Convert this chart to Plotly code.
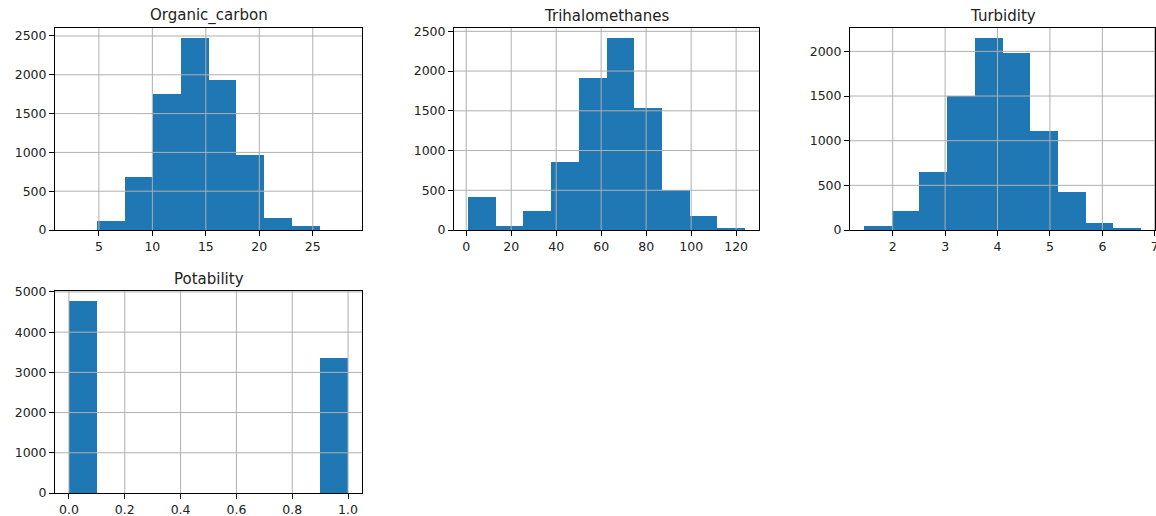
import plotly.graph_objects as go

# ---- data ----
titles = ["Organic_carbon", "Trihalomethanes", "Turbidity", "Potability"]
organic_range = [2.2, 28.3]
organic_counts = [0, 120, 687, 1748, 2479, 1933, 962, 150, 52, 0]
trihal_range = [0.738, 124.0]
trihal_counts = [412, 50, 244, 853, 1908, 2421, 1530, 500, 181, 15]
turb_range = [1.45, 6.74]
turb_counts = [45, 209, 647, 1499, 2154, 1978, 1114, 426, 78, 15]
pot_range = [0.0, 1.0]
pot_counts = [4785, 0, 0, 0, 0, 0, 0, 0, 0, 3364]

xticks = [[5, 10, 15, 20, 25], [0, 20, 40, 60, 80, 100, 120], [2, 3, 4, 5, 6, 7],
          [0.0, 0.2, 0.4, 0.6, 0.8, 1.0]]
yticks = [[0, 500, 1000, 1500, 2000, 2500], [0, 500, 1000, 1500, 2000, 2500],
          [0, 500, 1000, 1500, 2000], [0, 1000, 2000, 3000, 4000, 5000]]
xtickfmt = [None, None, None, ".1f"]

ranges = [organic_range, trihal_range, turb_range, pot_range]
counts = [organic_counts, trihal_counts, turb_counts, pot_counts]

# ---- layout geometry (pixels) ----
W, H = 1156, 516
px_cols = [(55, 362), (454, 759), (850, 1155)]
px_rows = [(28, 230), (291, 493)]
cells = [(0, 0), (0, 1), (0, 2), (1, 0)]

BLUE = "#1f77b4"
GRID = "#b0b0b0"
FONT = "DejaVu Sans"

fig = go.Figure()
shapes = []
annotations = []

for i, (title, rng, cnt) in enumerate(zip(titles, ranges, counts)):
    r, c = cells[i]
    ax = "" if i == 0 else str(i + 1)
    xa, ya = "x" + ax, "y" + ax
    n = len(cnt)
    lo, hi = rng
    w = (hi - lo) / n
    centers = [lo + w * (k + 0.5) for k in range(n)]
    fig.add_trace(go.Bar(x=centers, y=cnt, width=[w] * n, marker=dict(color=BLUE, line=dict(width=0)),
                         xaxis=xa, yaxis=ya, showlegend=False))
    x0p, x1p = px_cols[c]
    y0p, y1p = px_rows[r]
    pad = (hi - lo) * 0.05
    xr = [lo - pad, hi + pad]
    yr = [0, max(cnt) * 1.05]
    axis_common = dict(showline=True, linecolor="black", linewidth=1, mirror=True,
                       ticks="outside", ticklen=5, tickcolor="black", tickwidth=1,
                       showgrid=False, zeroline=False, layer="above traces", automargin=False,
                       ticklabeloverflow="allow",
                       tickfont=dict(family=FONT, size=12.5, color="#222222"))
    xkw = dict(axis_common, domain=[x0p / W, x1p / W], range=xr, tickmode="array",
               tickvals=xticks[i], anchor=ya)
    if xtickfmt[i]:
        xkw["ticktext"] = [format(v, xtickfmt[i]) for v in xticks[i]]
    else:
        xkw["ticktext"] = [str(v) for v in xticks[i]]
    ykw = dict(axis_common, domain=[1 - y1p / H, 1 - y0p / H], range=yr, tickmode="array",
               tickvals=yticks[i], ticktext=[str(v) for v in yticks[i]], anchor=xa)
    fig.layout["xaxis" + ax] = xkw
    fig.layout["yaxis" + ax] = ykw
    # gridlines drawn above the bars (as in matplotlib output)
    for v in xticks[i]:
        if xr[0] < v < xr[1]:
            shapes.append(dict(type="line", xref=xa, yref=ya + " domain", x0=v, x1=v, y0=0, y1=1,
                               line=dict(color=GRID, width=1), layer="above"))
    for v in yticks[i]:
        if yr[0] < v < yr[1]:
            shapes.append(dict(type="line", xref=xa + " domain", yref=ya, x0=0, x1=1, y0=v, y1=v,
                               line=dict(color=GRID, width=1), layer="above"))
    annotations.append(dict(text=title, xref="paper", yref="paper", x=(x0p + x1p) / 2 / W,
                            y=1 - y0p / H, xanchor="center", yanchor="bottom", yshift=1,
                            showarrow=False, font=dict(family=FONT, size=15, color="#222222")))

fig.update_layout(width=W, height=H, margin=dict(l=0, r=0, t=0, b=0, autoexpand=False),
                  plot_bgcolor="white", paper_bgcolor="white", bargap=0,
                  shapes=shapes, annotations=annotations, font=dict(family=FONT))
fig.write_html("out.html", config={"displayModeBar": False},
               post_script="document.body.style.margin='0';document.body.style.overflow='hidden';")
